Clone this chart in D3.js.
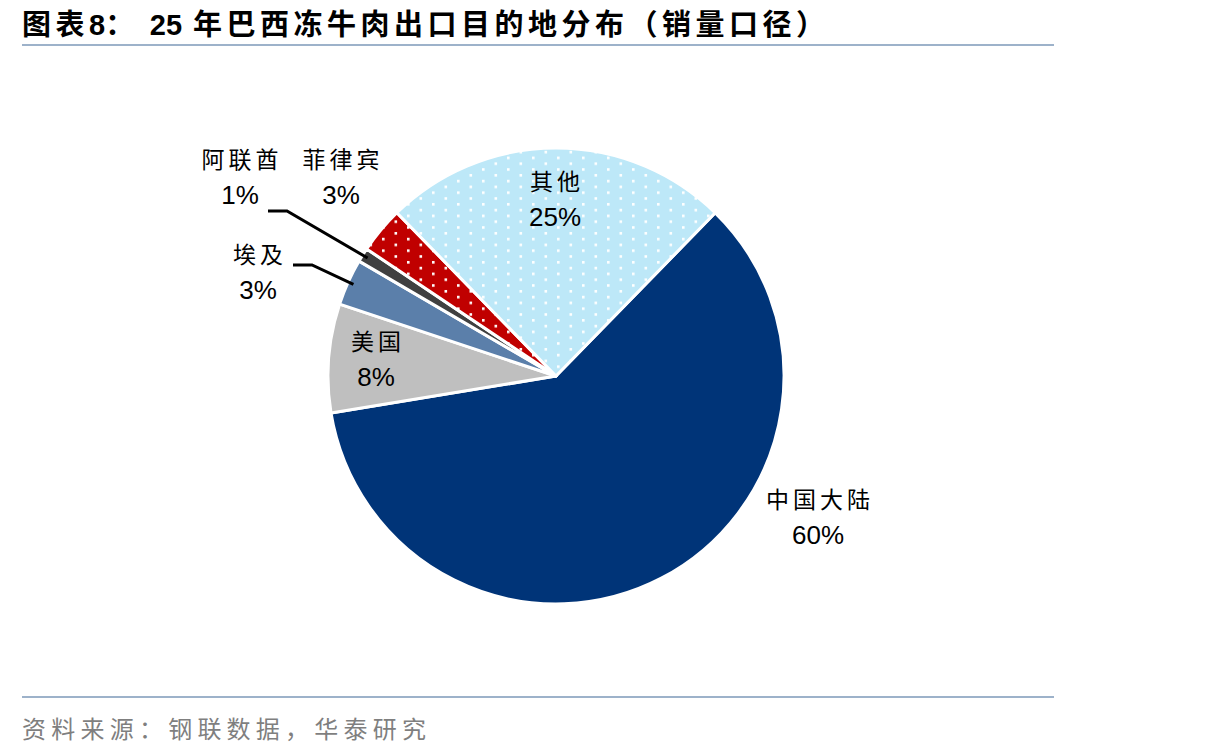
<!DOCTYPE html>
<html>
<head>
<meta charset="utf-8">
<script src="https://cdn.jsdelivr.net/npm/d3@7/dist/d3.min.js"></script>
<style>
  html, body { margin: 0; padding: 0; background: #fff; }
  svg { display: block; }
</style>
</head>
<body>
<svg id="chart" width="1206" height="751"></svg>
<script>
// ---- data ----
const categories = ["中国大陆", "美国", "埃及", "阿联酋", "菲律宾", "其他"];
const values = [60.1, 7.7, 3.3, 1.0, 3.3, 24.6];
const valueLabels = ["60%", "8%", "3%", "1%", "3%", "25%"];
const colors = ["#003478", "#BFBFBF", "#5B7FAA", "#404040", "#C00000", "#BDE8F8"];
const dotted = [false, false, false, false, true, true];
// label anchor offsets from pie centre (name line, value line)
const labelOffsets = [[262, 136], [-180, -22], [-298, -109], [-316, -204], [-215, -204], [-1, -182]];
const leaderLines = { 2: [[-263, -111], [-244, -111]], 3: [[-288, -165], [-269, -165]] };
const titleParts = ["图表", "8", "： ", "25", " 年巴西冻牛肉出口目的地分布（销量口径）"];
const sourceText = "资料来源：钢联数据，华泰研究";

const svg = d3.select("#chart");

// patterns
const defs = svg.append("defs");
colors.forEach((c, i) => {
  if (!dotted[i]) return;
  const p = defs.append("pattern").attr("id", "dots" + i)
    .attr("patternUnits", "userSpaceOnUse").attr("width", 25).attr("height", 11.6);
  p.append("rect").attr("width", 25).attr("height", 11.6).attr("fill", c);
  p.append("rect").attr("x", 1).attr("y", 1).attr("width", 2.6).attr("height", 2.6).attr("fill", "#fff");
  p.append("rect").attr("x", 13.5).attr("y", 6.8).attr("width", 2.6).attr("height", 2.6).attr("fill", "#fff");
});

// title & rules
const title = svg.append("text").attr("x", 22).attr("y", 35)
  .attr("font-family", "'Noto Sans CJK SC', sans-serif").attr("font-weight", "bold")
  .attr("font-size", 29).attr("fill", "#000").attr("xml:space", "preserve");
titleParts.forEach(t => {
  const isDigit = /^[0-9]+$/.test(t);
  title.append("tspan")
    .attr("font-family", isDigit ? "'Liberation Sans', Arial, sans-serif" : null)
    .attr("letter-spacing", isDigit ? 0 : 4.5)
    .text(t);
});

svg.append("line").attr("x1", 22).attr("x2", 1054).attr("y1", 45).attr("y2", 45)
  .attr("stroke", "#9DB2CA").attr("stroke-width", 2.2);
svg.append("line").attr("x1", 22).attr("x2", 1054).attr("y1", 697).attr("y2", 697)
  .attr("stroke", "#9DB2CA").attr("stroke-width", 2.2);
svg.append("text").attr("x", 22).attr("y", 738)
  .attr("font-family", "'Noto Sans CJK SC', sans-serif")
  .attr("font-size", 24).attr("fill", "#7F7F7F")
  .attr("textLength", 404).attr("lengthAdjust", "spacing")
  .text(sourceText);

// pie
const cx = 556, cy = 376, R = 228;
const startDeg = 44.3;
const pie = d3.pie().sort(null).value(d => d)
  .startAngle(startDeg * Math.PI / 180)
  .endAngle((startDeg + 360) * Math.PI / 180);
const arcs = pie(values);
const arc = d3.arc().innerRadius(0).outerRadius(R);
const g = svg.append("g").attr("transform", `translate(${cx},${cy})`);

g.selectAll("path.slice").data(arcs).join("path")
  .attr("class", "slice")
  .attr("d", arc)
  .attr("fill", (d, i) => dotted[i] ? `url(#dots${i})` : colors[i])
  .attr("stroke", "#fff").attr("stroke-width", 3).attr("stroke-linejoin", "round");

// leader lines
Object.keys(leaderLines).forEach(k => {
  const i = +k;
  const a = (arcs[i].startAngle + arcs[i].endAngle) / 2;
  const rr = R * 0.975;
  const end = [rr * Math.sin(a), -rr * Math.cos(a)];
  const pts = leaderLines[k].concat([end]);
  g.append("path").attr("d", d3.line()(pts))
    .attr("fill", "none").attr("stroke", "#000").attr("stroke-width", 3);
});

// labels
categories.forEach((name, i) => {
  const [dx, dy] = labelOffsets[i];
  g.append("text").attr("x", dx).attr("y", dy - 4)
    .attr("text-anchor", "middle")
    .attr("font-family", "'Noto Sans CJK SC', sans-serif")
    .attr("font-size", 23).attr("letter-spacing", 4).attr("fill", "#000")
    .attr("dx", 2)
    .text(name);
  g.append("text").attr("x", dx).attr("y", dy + 32)
    .attr("text-anchor", "middle")
    .attr("font-family", "'Liberation Sans', Arial, sans-serif")
    .attr("font-size", 26).attr("fill", "#000")
    .text(valueLabels[i]);
});
</script>
</body>
</html>
